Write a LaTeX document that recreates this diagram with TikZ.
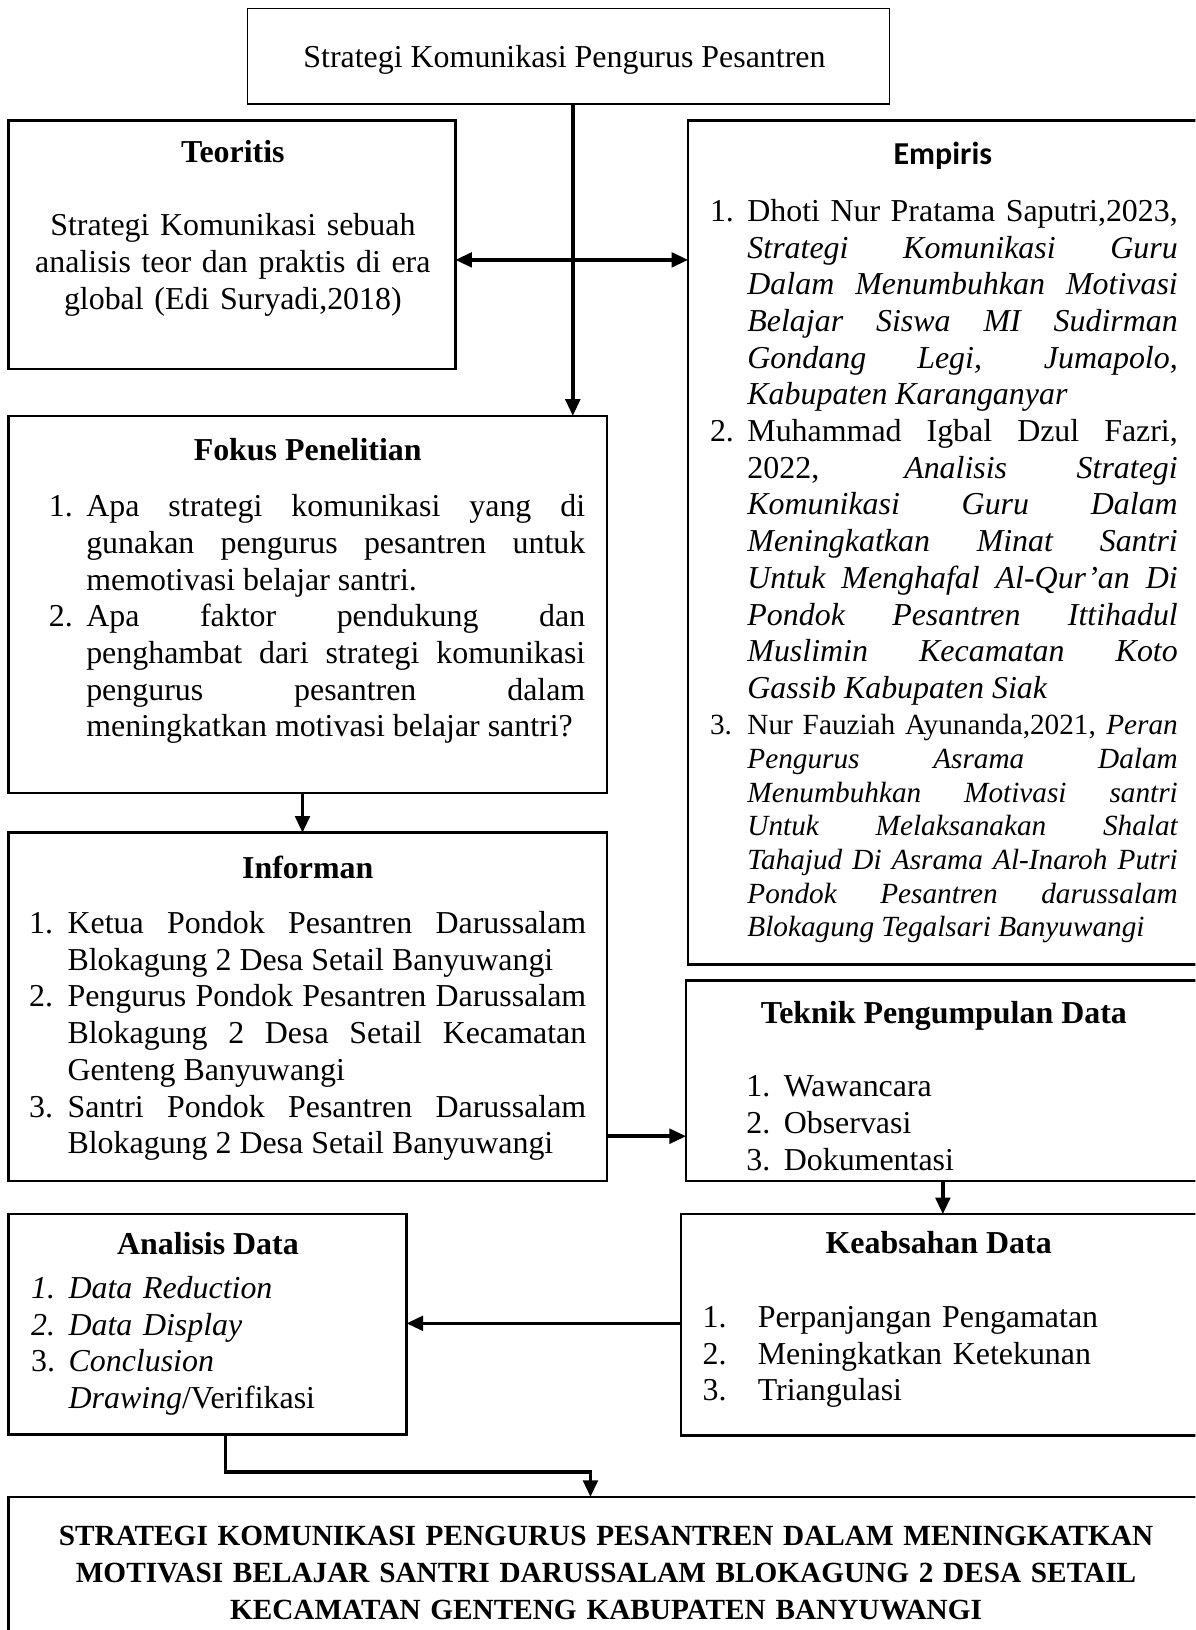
\documentclass[tikz,border=0pt]{standalone}
\usepackage{fontspec}
\setmainfont{Liberation Serif}
\newfontfamily\calibri{Carlito}
\usetikzlibrary{arrows.meta,fit}
\newcommand\bodyfont{\fontsize{15.35pt}{17.65pt}\selectfont}
\newcommand\smallbody{\fontsize{14.07pt}{16.2pt}\selectfont}
\newcommand\titlefont{\fontsize{14.07pt}{17.75pt}\selectfont\bfseries}
\newcommand\litem[2]{\noindent\hangindent=#1\hangafter=1\makebox[#1][l]{#2}\ignorespaces}
\tolerance=10000
\hbadness=10000
\hyphenpenalty=10000
\exhyphenpenalty=10000
\begin{document}
\begin{tikzpicture}[x=0.5pt,y=-0.5pt,
  box/.style={draw, line width=1.2pt, inner sep=0pt, outer sep=0pt},
  thinbox/.style={draw, line width=0.6pt, inner sep=0pt, outer sep=0pt},
  txt/.style={inner sep=0pt, outer sep=0pt, font=\bodyfont, align=justify, anchor=north west},
  head/.style={inner sep=0pt, outer sep=0pt, font=\bodyfont\bfseries, anchor=base},
  conn/.style={line width=1.7pt},
  arr/.style={conn, -{Triangle[length=8pt,width=7pt]}},
  darr/.style={conn, {Triangle[length=8pt,width=7pt]}-{Triangle[length=8pt,width=7pt]}}]

\useasboundingbox (0,0) rectangle (1150,1568);
\clip (0,0) rectangle (1150,1568);

% boxes
\node[thinbox, fit={(238,8) (856,100)}] (topB) {};
\node[box, fit={(8,116) (438,355)}] (teoB) {};
\node[box, fit={(662,116) (1160,928)}] (empB) {};
\node[box, fit={(8,400) (584,763)}] (fokB) {};
\node[box, fit={(8,801) (584,1136)}] (infB) {};
\node[box, fit={(660,943) (1160,1136)}] (tekB) {};
\node[box, fit={(655,1168) (1160,1381)}] (keaB) {};
\node[box, fit={(8,1168) (391,1380)}] (anaB) {};
\node[box, fit={(8,1440) (1160,1590)}] (botB) {};

% top
\node[anchor=base, font=\bodyfont, inner sep=0pt] (topT) at (543,65) {Strategi Komunikasi Pengurus Pesantren};

% Teoritis
\node[head] (teoH) at (224,156) {Teoritis};
\node[txt, align=center, anchor=north, text width=210pt] (teoT) at (224,202.3)
  {\strut Strategi Komunikasi sebuah\\analisis teor dan praktis di era\\global (Edi Suryadi,2018)};

% Empiris
\node[head, font=\bodyfont\calibri\bfseries] (empH) at (907,158) {Empiris};
\node[txt, text width=225pt] (empT) at (683,188.3) {%
\litem{18pt}{1.}\strut Dhoti Nur Pratama Saputri,2023,\linebreak
\textit{Strategi Komunikasi Guru\linebreak
Dalam Menumbuhkan Motivasi\linebreak
Belajar Siswa MI Sudirman\linebreak
Gondang Legi, Jumapolo,\linebreak
Kabupaten Karanganyar}\par
\litem{18pt}{2.}Muhammad Igbal Dzul Fazri,\linebreak
2022, \textit{Analisis Strategi\linebreak
Komunikasi Guru Dalam\linebreak
Meningkatkan Minat Santri\linebreak
Untuk Menghafal Al-Qur’an Di\linebreak
Pondok Pesantren Ittihadul\linebreak
Muslimin Kecamatan Koto\linebreak
Gassib Kabupaten Siak}\par
{\smallbody\vspace{1.3pt}%
\litem{18pt}{3.}Nur Fauziah Ayunanda,2021, \textit{Peran\linebreak
Pengurus Asrama Dalam\linebreak
Menumbuhkan Motivasi santri\linebreak
Untuk Melaksanakan Shalat\linebreak
Tahajud Di Asrama Al-Inaroh Putri\linebreak
Pondok Pesantren darussalam\linebreak
Blokagung Tegalsari Banyuwangi}\par}};

% Fokus
\node[head] (fokH) at (296,443) {Fokus Penelitian};
\node[txt, text width=258pt] (fokT) at (47,472.3) {%
\litem{18pt}{1.}\strut Apa strategi komunikasi yang di\linebreak
gunakan pengurus pesantren untuk\linebreak
memotivasi belajar santri.\par
\litem{18pt}{2.}Apa faktor pendukung dan\linebreak
penghambat dari strategi komunikasi\linebreak
pengurus pesantren dalam\linebreak
meningkatkan motivasi belajar santri?\par};

% Informan
\node[head] (infH) at (296,845) {Informan};
\node[txt, text width=268pt] (infT) at (28,873.3) {%
\litem{18.5pt}{1.}\strut Ketua Pondok Pesantren Darussalam\linebreak
Blokagung 2 Desa Setail Banyuwangi\par
\litem{18.5pt}{2.}Pengurus Pondok Pesantren Darussalam\linebreak
Blokagung 2 Desa Setail Kecamatan\linebreak
Genteng Banyuwangi\par
\litem{18.5pt}{3.}Santri Pondok Pesantren Darussalam\linebreak
Blokagung 2 Desa Setail Banyuwangi\par};

% Teknik
\node[head] (tekH) at (908,985) {Teknik Pengumpulan Data};
\node[txt, align=left, text width=190pt] (tekT) at (718,1030.3) {%
\litem{18pt}{1.}\strut Wawancara\par
\litem{18pt}{2.}Observasi\par
\litem{18pt}{3.}Dokumentasi\par};

% Keabsahan
\node[head] (keaH) at (903,1206) {Keabsahan Data};
\node[txt, align=left, text width=230pt] (keaT) at (676,1252.3) {%
\litem{26.5pt}{1.}\strut Perpanjangan Pengamatan\par
\litem{26.5pt}{2.}Meningkatkan Ketekunan\par
\litem{26.5pt}{3.}Triangulasi\par};

% Analisis
\node[head] (anaH) at (200,1207) {Analisis Data};
\node[txt, align=left, text width=170pt] (anaT) at (30,1224.3) {%
\litem{18pt}{\textit{1.}}\strut\textit{Data Reduction}\par
\litem{18pt}{\textit{2.}}\textit{Data Display}\par
\litem{18pt}{3.}\textit{Conclusion}\newline
\textit{Drawing}/Verifikasi\par};

% bottom
\node[txt, font=\titlefont, align=center, anchor=north, text width=560pt] (botT) at (583,1462.2)
  {\strut STRATEGI KOMUNIKASI PENGURUS PESANTREN DALAM MENINGKATKAN\\
   MOTIVASI BELAJAR SANTRI DARUSSALAM BLOKAGUNG 2 DESA SETAIL\\
   KECAMATAN GENTENG KABUPATEN BANYUWANGI};

% connector helper coordinates
\coordinate (vx) at (551,0);
\coordinate (hy) at (0,250);
\coordinate (fx) at (291,0);
\coordinate (iy) at (0,1093);
\coordinate (tx) at (907,0);
\coordinate (ky) at (0,1273);
\coordinate (ax) at (217,0);
\coordinate (turn) at (568,1416);

% connectors
\draw[arr] (topB.south -| vx) -- (fokB.north -| vx);
\draw[darr] (teoB.east |- hy) -- (empB.west |- hy);
\draw[arr] (fokB.south -| fx) -- (infB.north -| fx);
\draw[arr] (infB.east |- iy) -- (tekB.west |- iy);
\draw[arr] (tekB.south -| tx) -- (keaB.north -| tx);
\draw[arr] (keaB.west |- ky) -- (anaB.east |- ky);
\draw[arr] (anaB.south -| ax) |- (turn) -- (botB.north -| turn);
\end{tikzpicture}
\end{document}
